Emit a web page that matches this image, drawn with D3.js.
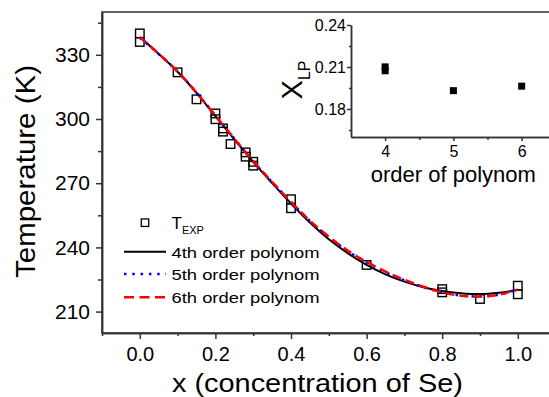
<!DOCTYPE html>
<html>
<head>
<meta charset="utf-8">
<script src="https://cdn.jsdelivr.net/npm/d3@7"></script>
<style>
  body { margin: 0; background: #fff; }
  svg { display: block; font-family: 'Liberation Sans', Arial, sans-serif; }
  .axis path, .axis line { stroke: #333; stroke-width: 1.5; }
  .axis text { fill: #000; }
</style>
</head>
<body>
<div class="chart"></div>
<script>
// experimental points
const xExp = [0, 0, 0.1, 0.15, 0.2, 0.2, 0.22, 0.22, 0.24, 0.28, 0.28, 0.3, 0.3, 0.4, 0.4, 0.6, 0.8, 0.8, 0.9, 1.0, 1.0]
const tExp = [340.0, 336.0, 321.8, 309.2, 302.6, 299.9, 295.6, 294.1, 288.3, 284.4, 282.4, 280.0, 278.2, 262.5, 258.3, 231.8, 220.5, 219.0, 215.9, 222.1, 218.1]

// fitted curves
const xFit = [0, 0.05, 0.1, 0.15, 0.2, 0.25, 0.3, 0.35, 0.4, 0.45, 0.5, 0.55, 0.6, 0.65, 0.7, 0.75, 0.8, 0.85, 0.9, 0.95, 1.0]
const fit4 = [338.3, 330.4, 322.1, 312.2, 301.3, 290.5, 280.0, 270.0, 260.5, 251.6, 243.8, 237.3, 231.8, 227.4, 224.0, 221.4, 219.6, 218.6, 218.2, 218.8, 220.1]
const fit5 = [338.0, 330.4, 322.2, 312.3, 301.6, 290.8, 280.2, 270.5, 261.2, 252.4, 244.8, 238.3, 232.9, 228.4, 224.6, 221.4, 219.0, 217.5, 217.1, 218.0, 220.3]
const fit6 = [338.3, 330.5, 322.2, 312.3, 301.6, 290.8, 280.3, 270.6, 261.3, 252.5, 245.0, 238.5, 233.2, 228.7, 224.9, 221.6, 219.0, 217.4, 217.0, 217.9, 220.4]

const xTicks = [0, 0.2, 0.4, 0.6, 0.8, 1.0]
const yTicks = [210, 240, 270, 300, 330]

// inset
const orders = [4, 4, 5, 6]
const xLP = [0.2101, 0.2073, 0.1931, 0.1963]
const insetXTicks = [4, 5, 6]
const insetYTicks = [0.18, 0.21, 0.24]

const width = 549
const height = 397

const svg = d3
  .select('.chart')
  .append('svg')
  .attr('width', width)
  .attr('height', height)

const x = d3.scaleLinear().domain([-0.1, 1.1]).range([102, 555.6])
const y = d3.scaleLinear().domain([200, 350]).range([333, 12])

// frame
svg
  .append('rect')
  .attr('x', x(-0.1))
  .attr('y', y(350))
  .attr('width', x(1.1) - x(-0.1))
  .attr('height', y(200) - y(350))
  .attr('fill', 'none')
  .attr('stroke', '#333')
  .attr('stroke-width', 1.5)

// bottom axis
svg
  .append('g')
  .attr('class', 'axis')
  .attr('transform', `translate(0,${y(200)})`)
  .call(d3.axisBottom(x).tickValues(d3.range(-0.1, 1.15, 0.2)).tickSize(3).tickSizeOuter(0).tickFormat(''))
svg
  .append('g')
  .attr('class', 'axis')
  .attr('transform', `translate(0,${y(200)})`)
  .call(d3.axisBottom(x).tickValues(xTicks).tickSize(6).tickSizeOuter(0).tickPadding(8).tickFormat(d3.format('.1f')))
  .call(g => g.selectAll('text').attr('font-size', 20))

// left axis
svg
  .append('g')
  .attr('class', 'axis')
  .attr('transform', `translate(${x(-0.1)},0)`)
  .call(d3.axisLeft(y).tickValues(d3.range(225, 350, 30)).tickSize(4).tickSizeOuter(0).tickFormat(''))
svg
  .append('g')
  .attr('class', 'axis')
  .attr('transform', `translate(${x(-0.1)},0)`)
  .call(d3.axisLeft(y).tickValues(yTicks).tickSize(6).tickSizeOuter(0).tickPadding(6))
  .call(g => g.selectAll('text').attr('font-size', 21))

// axis titles
svg
  .append('text')
  .attr('x', 317.4)
  .attr('y', 392)
  .attr('text-anchor', 'middle')
  .attr('font-size', 25)
  .attr('textLength', 291)
  .attr('lengthAdjust', 'spacingAndGlyphs')
  .text('x (concentration of Se)')

svg
  .append('text')
  .attr('transform', 'translate(35,171.5) rotate(-90)')
  .attr('text-anchor', 'middle')
  .attr('font-size', 28)
  .attr('textLength', 213)
  .attr('lengthAdjust', 'spacingAndGlyphs')
  .text('Temperature (K)')

// experimental squares
const sq = 8.5
svg
  .append('g')
  .selectAll('rect')
  .data(xExp)
  .enter()
  .append('rect')
  .attr('x', (d, i) => x(d) - sq / 2)
  .attr('y', (d, i) => y(tExp[i]) - sq / 2)
  .attr('width', sq)
  .attr('height', sq)
  .attr('fill', 'none')
  .attr('stroke', '#000')
  .attr('stroke-width', 1.4)

// fit lines
const fits = [
  { values: fit4, color: '#000', dash: null, w: 2 },
  { values: fit5, color: '#0000ff', dash: '2.5,5.5', w: 2.5 },
  { values: fit6, color: '#ff0000', dash: '9,5', w: 2.5 },
]

const line = d3
  .line()
  .x(d => x(d[0]))
  .y(d => y(d[1]))
  .curve(d3.curveCatmullRom)

svg
  .append('g')
  .selectAll('path')
  .data(fits)
  .enter()
  .append('path')
  .attr('d', f => line(xFit.map((v, i) => [v, f.values[i]])))
  .attr('fill', 'none')
  .attr('stroke', f => f.color)
  .attr('stroke-width', f => f.w)
  .attr('stroke-dasharray', f => f.dash)

// legend
const legend = svg.append('g')
legend
  .append('rect')
  .attr('x', 145 - 3.75)
  .attr('y', 222.7 - 3.75)
  .attr('width', 7.5)
  .attr('height', 7.5)
  .attr('fill', 'none')
  .attr('stroke', '#000')
  .attr('stroke-width', 1.3)

const tLabel = legend
  .append('text')
  .attr('x', 171.5)
  .attr('y', 229)
  .attr('font-size', 17)
tLabel.append('tspan').text('T')
tLabel.append('tspan').attr('font-size', 10.5).attr('dy', 5).attr('textLength', 22).attr('lengthAdjust', 'spacingAndGlyphs').text('EXP')

const legendNames = ['4th order polynom', '5th order polynom', '6th order polynom']
const legendY = [251.7, 274, 297.3]

fits.forEach((f, i) => {
  legend
    .append('line')
    .attr('x1', 124)
    .attr('x2', 166)
    .attr('y1', legendY[i])
    .attr('y2', legendY[i])
    .attr('stroke', f.color)
    .attr('stroke-width', f.w)
    .attr('stroke-dasharray', i === 2 ? '10,5.5' : i === 1 ? '2.5,5.8' : null)
  legend
    .append('text')
    .attr('x', 171.5)
    .attr('y', legendY[i] + 5.8)
    .attr('font-size', 15.5)
    .attr('textLength', 148)
    .attr('lengthAdjust', 'spacingAndGlyphs')
    .text(legendNames[i])
})

// inset
const ix = d3.scaleLinear().domain([3.5, 6.5]).range([351, 555.8])
const iy = d3.scaleLinear().domain([0.16, 0.24]).range([137, 25])

const inset = svg.append('g')

inset
  .append('g')
  .attr('class', 'axis')
  .attr('transform', `translate(0,${iy(0.16)})`)
  .call(d3.axisBottom(ix).tickValues([4.5, 5.5]).tickSize(3).tickSizeOuter(0).tickFormat(''))
inset
  .append('g')
  .attr('class', 'axis')
  .attr('transform', `translate(0,${iy(0.16)})`)
  .call(d3.axisBottom(ix).tickValues(insetXTicks).tickSize(4).tickSizeOuter(0).tickPadding(5).tickFormat(d3.format('d')))
  .call(g => g.selectAll('text').attr('font-size', 16))

inset
  .append('g')
  .attr('class', 'axis')
  .attr('transform', `translate(${ix(3.5)},0)`)
  .call(d3.axisLeft(iy).tickValues([0.165, 0.195, 0.225]).tickSize(2).tickSizeOuter(0).tickFormat(''))
inset
  .append('g')
  .attr('class', 'axis')
  .attr('transform', `translate(${ix(3.5)},0)`)
  .call(d3.axisLeft(iy).tickValues(insetYTicks).tickSize(4).tickSizeOuter(0).tickPadding(1).tickFormat(d3.format('.2f')))
  .call(g => g.selectAll('text').attr('font-size', 16))

inset.selectAll('.axis path, .axis line').attr('stroke-width', 1.2)

const fsq = 7
inset
  .append('g')
  .selectAll('rect')
  .data(orders)
  .enter()
  .append('rect')
  .attr('x', d => ix(d) - fsq / 2)
  .attr('y', (d, i) => iy(xLP[i]) - fsq / 2)
  .attr('width', fsq)
  .attr('height', fsq)
  .attr('fill', '#000')

inset
  .append('text')
  .attr('x', 453.3)
  .attr('y', 182)
  .attr('text-anchor', 'middle')
  .attr('font-size', 22)
  .text('order of polynom')

const xlp = inset
  .append('text')
  .attr('transform', 'translate(301.5,80) rotate(-90)')
  .attr('text-anchor', 'middle')
  .attr('font-size', 29)
xlp.append('tspan').text('X')
xlp.append('tspan').attr('font-size', 16).attr('dy', 8).text('LP')
</script>
</body>
</html>
